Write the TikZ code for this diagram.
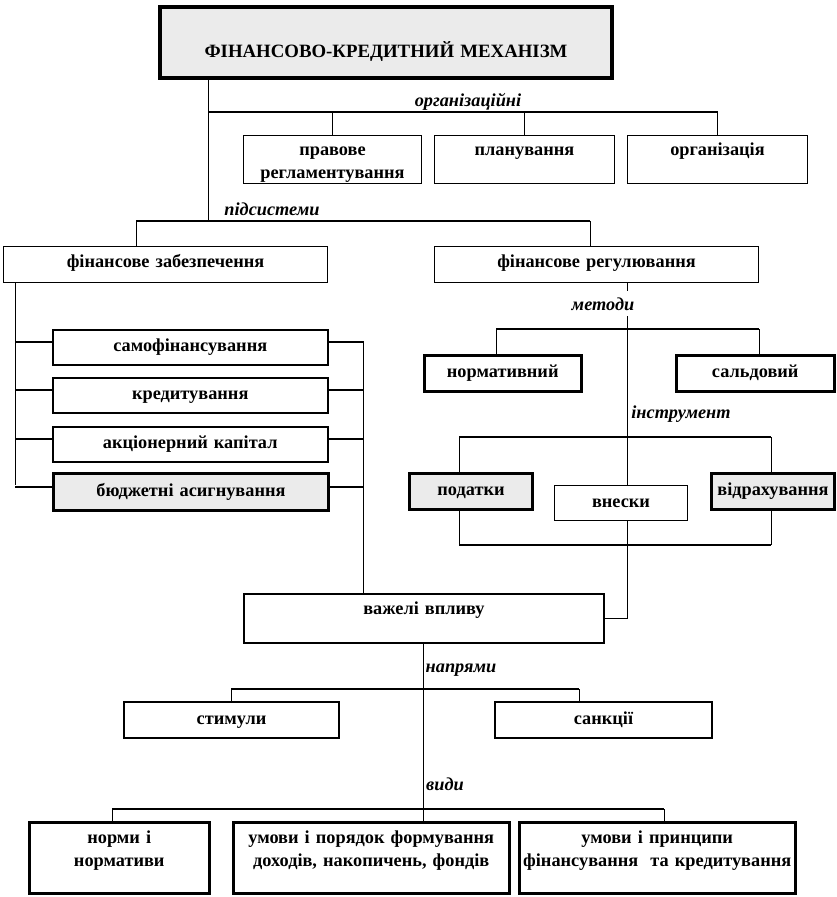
\documentclass[tikz,border=0pt]{standalone}
\usepackage{fontspec}
\setmainfont{Liberation Serif}
\definecolor{boxgray}{gray}{0.92}
\newcommand{\chartfont}{\fontsize{18.3}{23}\selectfont}

\begin{document}
\begin{tikzpicture}[x=1pt, y=-1pt,
  box/.style={draw, fill=white, line width=1pt, inner sep=0pt, align=center, anchor=north west, font=\chartfont\bfseries},
  dims/.style n args={3}{text width=#1pt, text height=#2pt, text depth=#3pt},
  heavy/.style={box, line width=3pt, fill=boxgray},
  firm/.style={box, line width=2.5pt},
  tag/.style={font=\chartfont\bfseries\itshape, inner sep=1pt, anchor=base},
  bus/.style={line width=2pt}]
  \useasboundingbox (0,0) rectangle (836,897);

  \node[heavy, line width=4pt, dims={452}{50}{21}, font=\fontsize{18.8}{23}\selectfont\bfseries] (mech) at (158,5) {ФІНАНСОВО-КРЕДИТНИЙ МЕХАНІЗМ};

  \node[box, dims={178}{20}{28}] (prav) at (243,135) {правове\\регламентування};
  \node[box, dims={180}{20}{28}] (plan) at (434,135) {планування};
  \node[box, dims={180}{20}{28}] (org) at (627,135) {організація};

  \node[box, dims={324}{21}{15}] (fz) at (3,246) {фінансове забезпечення};
  \node[box, dims={324}{21}{15}] (fr) at (434,246) {фінансове регулювання};

  \node[box, line width=1.5pt, dims={275}{22}{13}] (samo) at (52,329) {самофінансування};
  \node[box, line width=1.5pt, dims={275}{22}{13}] (kred) at (52,377) {кредитування};
  \node[box, line width=1.5pt, dims={275}{22}{13}] (akc) at (52,426) {акціонерний капітал};
  \node[heavy, dims={275}{23}{14}] (budg) at (52,472) {бюджетні асигнування};

  \node[firm, dims={157}{22}{14}] (norm) at (423,354) {нормативний};
  \node[firm, dims={158}{22}{14}] (sald) at (675,354) {сальдовий};

  \node[heavy, dims={123}{22}{14}] (pod) at (408,472) {податки};
  \node[box, dims={133}{22}{13}] (vnes) at (554,485) {внески};
  \node[heavy, dims={123}{22}{14}] (vidr) at (710,472) {відрахування};

  \node[box, line width=2pt, dims={360}{20}{29}] (vv) at (243,593) {важелі впливу};

  \node[box, line width=2pt, dims={215}{22}{14}] (stym) at (123,701) {стимули};
  \node[box, line width=2pt, dims={217}{22}{14}] (sank) at (494,701) {санкції};

  \node[firm, dims={180}{21}{50}] (nn) at (28,821) {норми і\\нормативи};
  \node[firm, dims={276}{21}{50}] (ump) at (232,821) {умови і порядок формування\\доходів, накопичень, фондів};
  \node[firm, dims={276}{21}{50}] (umf) at (518,821) {умови і принципи\\фінансування\ \ та кредитування};

  \coordinate (o0) at (208,112);
  \coordinate (s0) at (208,221);
  \coordinate (s1) at (136,221);
  \coordinate (s2) at (590,221);
  \coordinate (l0) at (15,485);
  \coordinate (r0) at (363,341);
  \coordinate (m0) at (627,617);
  \coordinate (m1) at (496,329);
  \coordinate (m2) at (759,329);
  \coordinate (i1) at (459,437);
  \coordinate (i2) at (771,437);
  \coordinate (i3) at (459,545);
  \coordinate (i4) at (771,545);
  \coordinate (n0) at (423,689);
  \coordinate (n1) at (231,689);
  \coordinate (n2) at (579,689);
  \coordinate (v1) at (112,809);
  \coordinate (v2) at (664,809);

  \draw (mech.south -| o0) -- (s0);
  \draw[bus] (o0) -- (o0 -| org.north);
  \foreach \n in {prav,plan,org} \draw (\n.north) -- (\n.north |- o0);
  \draw[bus] (s1) -- (s2);
  \draw (s1) -- (s1 |- fz.north);
  \draw (s2) -- (s2 |- fr.north);

  \draw (fz.south -| l0) -- (l0);
  \foreach \n in {samo,kred,akc,budg} {
    \draw[bus] ([yshift=5pt]\n.west) -- ([yshift=5pt]\n.west -| l0);
    \draw[bus] ([yshift=5pt]\n.east) -- ([yshift=5pt]\n.east -| r0);
  }
  \draw (r0) -- (vv.north -| r0);

  \draw (fr.south -| m0) -- (vnes.north -| m0);
  \draw (vnes.south -| m0) -- (vv.east -| m0) -- (vv.east);
  \draw[bus] (m1) -- (m2);
  \draw (m1) -- (m1 |- norm.north);
  \draw (m2) -- (m2 |- sald.north);
  \draw[bus] (i1) -- (i2);
  \draw[bus] (i3) -- (i4);
  \draw (i1) -- (i1 |- pod.north);
  \draw (i2) -- (i2 |- vidr.north);
  \draw (i3) -- (i3 |- pod.south);
  \draw (i4) -- (i4 |- vidr.south);

  \draw (vv.south -| n0) -- (ump.north -| n0);
  \draw[bus] (n1) -- (n2);
  \draw (n1) -- (n1 |- stym.north);
  \draw (n2) -- (n2 |- sank.north);
  \draw[bus] (v1) -- (v2);
  \draw (v1) -- (v1 |- nn.north);
  \draw (v2) -- (v2 |- umf.north);

  \node[tag] (torg) at (468,106) {організаційні};
  \node[tag] (tsub) at (272,215) {підсистеми};
  \node[tag, fill=white, inner ysep=6pt] (tmet) at (603,310) {методи};
  \node[tag] (tins) at (681,418) {інструмент};
  \node[tag] (tdir) at (461,672) {напрями};
  \node[tag] (tkind) at (445,790) {види};
\end{tikzpicture}
\end{document}
